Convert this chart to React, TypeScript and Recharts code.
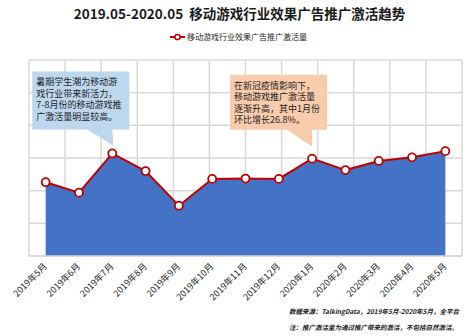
import React from 'react';
import { ComposedChart, Area, Line, XAxis, YAxis, CartesianGrid, Legend, ReferenceDot, ReferenceLine } from 'recharts';

const months = [
  '2019年5月', '2019年6月', '2019年7月', '2019年8月', '2019年9月', '2019年10月', '2019年11月',
  '2019年12月', '2020年1月', '2020年2月', '2020年3月', '2020年4月', '2020年5月',
];
const activations = [2.26, 1.94, 3.14, 2.6, 1.54, 2.36, 2.37, 2.36, 2.98, 2.63, 2.91, 3.02, 3.21];
const yTicks = [0, 1, 2, 3, 4, 5, 6];
const gridTicks = months.map((_, i) => i).concat([months.length]);

const title = '2019.05-2020.05  移动游戏行业效果广告推广激活趋势';
const seriesName = '移动游戏行业效果广告推广激活量';
const summerNote = ['暑期学生潮为移动游', '戏行业带来新活力，', '7-8月份的移动游戏推', '广激活量明显较高。'];
const covidNote = ['在新冠疫情影响下，', '移动游戏推广激活量', '逐渐升高，其中1月份', '环比增长26.8%。'];
const summerMonth = '2019年7月';
const covidMonth = '2020年1月';
const footerLines = ['数据来源：TalkingData，2019年5月-2020年5月，全平台', '注：推广激活量为通过推广带来的激活，不包括自然激活。'];

const data = months.map((m, i) => ({ month: m, value: activations[i] }));
const valueOf = (m: string) => activations[months.indexOf(m)];

const FONT = '"Noto Sans CJK SC", "Noto Sans", sans-serif';
const RED = '#C00000';
const GRID = '#D9D9D9';
const PLOT_W = 473 - 29 - 11;
const HALF_BAND = PLOT_W / months.length / 2;

const AngledTick = (props: any) => {
  const { x, y, payload } = props;
  return (
    <g transform={`translate(${x + 2},${y + 3})`}>
      <text x={0} y={0} textAnchor="end" transform="rotate(-45)" fontSize={9} fill="#262626" fontFamily={FONT}>
        {payload.value}
      </text>
    </g>
  );
};

const makeCallout = (lines: string[], fill: string, left: number, right: number, top: number, bottom: number, tipDy: number, tipDx: number) =>
  (props: any) => {
    const { cx, cy } = props;
    const bx = cx + left;
    const by = cy + top;
    const w = right - left;
    const baseY = cy + bottom;
    return (
      <g>
        <path
          d={`M${bx},${by} H${bx + w} V${baseY} H${cx} L${cx + tipDx},${cy + tipDy} L${cx - 25},${baseY} H${bx} Z`}
          fill={fill}
        />
        {lines.map((l, i) => (
          <text key={i} x={bx + 4} y={by + 14 + i * 11.5} fontSize={9} fill="#1f1f1f" fontFamily={FONT}>
            {l}
          </text>
        ))}
      </g>
    );
  };

const SummerCallout = makeCallout(summerNote, '#BDD7EE', -80, 17, -82, -24, -8, 1);
const CovidCallout = makeCallout(covidNote, '#F8CBAD', -82, 15, -84, -29, -12, 0);

const LegendContent = () => (
  <div style={{ display: 'flex', alignItems: 'center', justifyContent: 'center', fontFamily: FONT, fontSize: 8, color: '#262626', paddingLeft: 4 }}>
    <svg width={15} height={8}>
      <line x1={0} y1={4} x2={15} y2={4} stroke={RED} strokeWidth={2} />
      <circle cx={7.5} cy={4} r={2.6} fill="#fff" stroke={RED} strokeWidth={1.5} />
    </svg>
    <span style={{ marginLeft: 2 }}>{seriesName}</span>
  </div>
);

export default function App() {
  return (
    <div style={{ position: 'absolute', left: 0, top: 0, width: 473, height: 336, background: '#fff', fontFamily: FONT }}>
      <div
        style={{
          position: 'absolute', top: 0, left: 3, width: 473, height: 26, lineHeight: '26px', textAlign: 'center',
          fontSize: 13.5, fontWeight: 700, color: '#1a1a1a', whiteSpace: 'pre',
        }}
      >
        {title}
      </div>
      <ComposedChart width={473} height={336} data={data} margin={{ top: 60, right: 11, left: 29, bottom: 20 }}>
        <XAxis xAxisId="grid" type="number" domain={[0, months.length]} ticks={gridTicks} hide />
        <CartesianGrid stroke={GRID} strokeWidth={1.5} xAxisId="grid" />
        <XAxis
          dataKey="month"
          axisLine={false}
          tickLine={false}
          interval={0}
          height={60}
          padding={{ left: HALF_BAND, right: HALF_BAND }}
          tick={<AngledTick />}
        />
        <YAxis hide domain={[0, 6]} ticks={yTicks} width={0} />
        <Legend
          verticalAlign="middle"
          align="center"
          layout="horizontal"
          content={<LegendContent />}
          wrapperStyle={{ top: 31, left: 0, width: 473 }}
        />
        <Area dataKey="value" fill="#4472C4" fillOpacity={1} stroke="none" legendType="none" isAnimationActive={false} />
        <ReferenceLine y={0} stroke={GRID} strokeWidth={1.5} ifOverflow="visible" />
        <Line
          dataKey="value"
          name={seriesName}
          stroke={RED}
          strokeWidth={2}
          dot={{ r: 4, fill: '#fff', stroke: RED, strokeWidth: 1.8 }}
          isAnimationActive={false}
        />
        <ReferenceDot x={summerMonth} y={valueOf(summerMonth)} ifOverflow="visible" shape={SummerCallout} isFront />
        <ReferenceDot x={covidMonth} y={valueOf(covidMonth)} ifOverflow="visible" shape={CovidCallout} isFront />
      </ComposedChart>
      {footerLines.map((l, i) => (
        <div
          key={i}
          style={{
            position: 'absolute', left: 289, top: 307 + i * 16, fontSize: 6.5, fontStyle: 'italic', fontWeight: 600,
            color: '#1a1a1a', whiteSpace: 'nowrap', lineHeight: '9px',
          }}
        >
          {l}
        </div>
      ))}
    </div>
  );
}
